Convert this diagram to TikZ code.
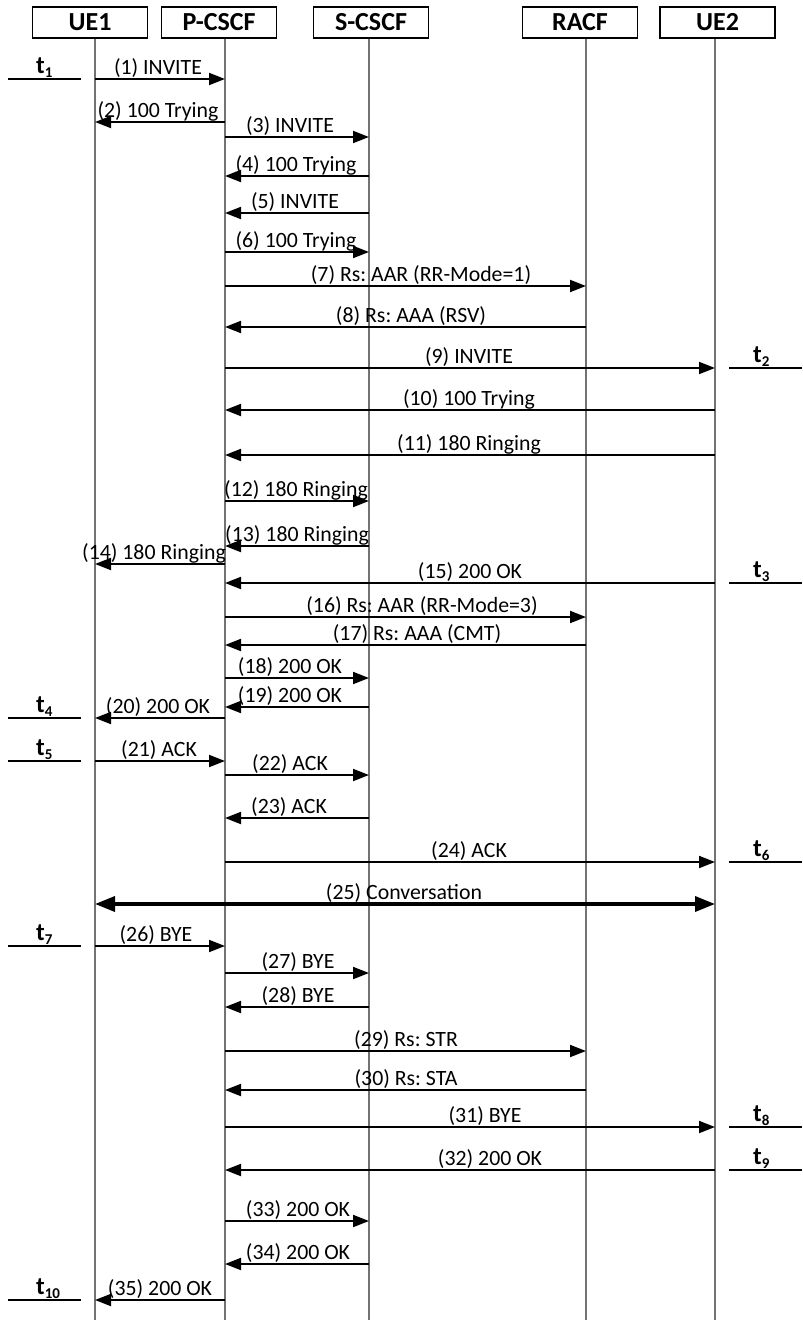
\documentclass[tikz,border=0pt]{standalone}
\usepackage{fontspec}
\setmainfont{Carlito}
\usetikzlibrary{arrows.meta}
\frenchspacing
\newcommand{\tsub}[1]{\raisebox{-4bp}{\fontsize{15bp}{17bp}\selectfont\bfseries #1}}
\newcommand{\Msg}[6]{%
  \draw[msg] (#3 |- 0,#2) -- (#4 |- 0,#2);
  \node[lbl] (m#1) at (#5,#2-1) {#6};}
\newcommand{\TickL}[2]{%
  \coordinate (tla#1) at (8,#2); \coordinate (tlb#1) at (81,#2);
  \draw[tick] (tla#1) -- (tlb#1);
  \node[tlbl] (tl#1) at (36,#2-1) {t\tsub{#1}};}
\newcommand{\TickR}[2]{%
  \coordinate (tra#1) at (729,#2); \coordinate (trb#1) at (802,#2);
  \draw[tick] (tra#1) -- (trb#1);
  \node[tlbl] (tr#1) at (753,#2-1) {t\tsub{#1}};}
\begin{document}
\frenchspacing
\begin{tikzpicture}[x=1bp,y=-1bp,
 actor/.style={draw=black, line width=1.8bp, fill=white, minimum width=115bp, minimum height=31bp, inner sep=0pt, font=\fontsize{26bp}{28bp}\selectfont\bfseries},
 life/.style={draw=black!55, line width=1.8bp},
 msg/.style={draw=black, line width=1.9bp, -{Triangle[length=16bp,width=12bp]}},
 conv/.style={draw=black, line width=3.5bp, {Triangle[length=20bp,width=15bp]}-{Triangle[length=20bp,width=15bp]}},
 lbl/.style={font=\fontsize{21.8bp}{25bp}\selectfont\frenchspacing, inner sep=0pt, anchor=south},
 tick/.style={draw=black, line width=1.8bp},
 tlbl/.style={font=\fontsize{25bp}{28bp}\selectfont\bfseries, inner sep=0pt, anchor=south west}]
\useasboundingbox (0,0) rectangle (802,1322);
% lifelines
\coordinate (L1) at (95,38);  \coordinate (L1b) at (95,1320);
\coordinate (L2) at (225,38); \coordinate (L2b) at (225,1320);
\coordinate (L3) at (369,38); \coordinate (L3b) at (369,1320);
\coordinate (L4) at (586,38); \coordinate (L4b) at (586,1320);
\coordinate (L5) at (715,38); \coordinate (L5b) at (715,1320);
\foreach \i in {1,...,5} {\draw[life] (L\i) -- (L\i b);}
% actors
\node[actor] (UE1) at (90,22.5) {UE1};
\node[actor] (PCSCF) at (219,22.5) {P-CSCF};
\node[actor] (SCSCF) at (371,22.5) {S-CSCF};
\node[actor] (RACF) at (580,22.5) {RACF};
\node[actor] (UE2) at (717.5,22.5) {UE2};
% messages
\Msg{1}{79}{L1}{L2}{158}{(1) INVITE}
\Msg{2}{122}{L2}{L1}{158}{(2) 100 Trying}
\Msg{3}{137}{L2}{L3}{290}{(3) INVITE}
\Msg{4}{176}{L3}{L2}{296}{(4) 100 Trying}
\Msg{5}{213}{L3}{L2}{295}{(5) INVITE}
\Msg{6}{252}{L2}{L3}{296}{(6) 100 Trying}
\Msg{7}{286}{L2}{L4}{421}{(7) Rs: AAR (RR-Mode=1)}
\Msg{8}{327}{L4}{L2}{411}{(8) Rs: AAA (RSV)}
\Msg{9}{368}{L2}{L5}{469}{(9) INVITE}
\Msg{10}{410}{L5}{L2}{469}{(10) 100 Trying}
\Msg{11}{455}{L5}{L2}{469}{(11) 180 Ringing}
\Msg{12}{501}{L2}{L3}{296}{(12) 180 Ringing}
\Msg{13}{546}{L3}{L2}{297}{(13) 180 Ringing}
\Msg{14}{564}{L2}{L1}{154}{(14) 180 Ringing}
\Msg{15}{583}{L5}{L2}{470}{(15) 200 OK}
\Msg{16}{617}{L2}{L4}{422}{(16) Rs: AAR (RR-Mode=3)}
\Msg{17}{645}{L4}{L2}{417}{(17) Rs: AAA (CMT)}
\Msg{18}{678}{L2}{L3}{290}{(18) 200 OK}
\Msg{19}{707}{L3}{L2}{290}{(19) 200 OK}
\Msg{20}{718}{L2}{L1}{158}{(20) 200 OK}
\Msg{21}{761}{L1}{L2}{159}{(21) ACK}
\Msg{22}{775}{L2}{L3}{290}{(22) ACK}
\Msg{23}{818}{L3}{L2}{289}{(23) ACK}
\Msg{24}{862}{L2}{L5}{469}{(24) ACK}
\draw[conv] (L1 |- 0,904) -- (L5 |- 0,904);
\node[lbl] (m25) at (404,903) {(25) Conversation};
\Msg{26}{946}{L1}{L2}{156}{(26) BYE}
\Msg{27}{973}{L2}{L3}{298}{(27) BYE}
\Msg{28}{1007}{L3}{L2}{298}{(28) BYE}
\Msg{29}{1051}{L2}{L4}{406}{(29) Rs: STR}
\Msg{30}{1090}{L4}{L2}{406}{(30) Rs: STA}
\Msg{31}{1127}{L2}{L5}{485}{(31) BYE}
\Msg{32}{1170}{L5}{L2}{490}{(32) 200 OK}
\Msg{33}{1221}{L2}{L3}{298}{(33) 200 OK}
\Msg{34}{1264}{L3}{L2}{298}{(34) 200 OK}
\Msg{35}{1300}{L2}{L1}{160}{(35) 200 OK}
% time marks
\TickL{1}{79}
\TickR{2}{368}
\TickR{3}{583}
\TickL{4}{718}
\TickL{5}{761}
\TickR{6}{862}
\TickL{7}{946}
\TickR{8}{1127}
\TickR{9}{1170}
\TickL{10}{1300}
\end{tikzpicture}
\end{document}
